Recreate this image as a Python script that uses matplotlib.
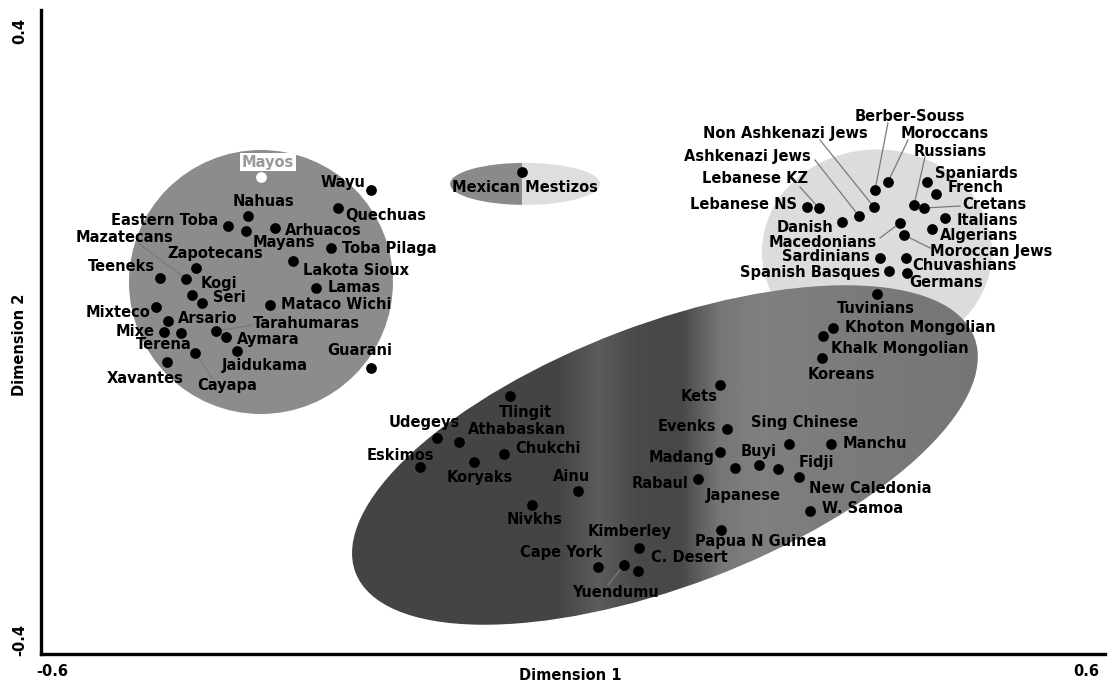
import numpy as np
import matplotlib
matplotlib.use("Agg")
import matplotlib.pyplot as plt
from matplotlib.patches import Ellipse, Rectangle
from matplotlib import transforms as mtransforms
from matplotlib.colors import LinearSegmentedColormap

# --- Amerindian group (left circle) ---
amer_names = ['Wayu', 'Quechuas', 'Nahuas', 'Eastern Toba', 'Mayans', 'Arhuacos',
              'Lakota Sioux', 'Toba Pilaga', 'Lamas', 'Mataco Wichi', 'Zapotecans',
              'Mazatecans', 'Teeneks', 'Kogi', 'Seri', 'Mixteco', 'Arsario', 'Mixe',
              'Terena', 'Cayapa', 'Tarahumaras', 'Aymara', 'Jaidukama', 'Guarani',
              'Xavantes']
amer_x = [-0.228, -0.265, -0.367, -0.389, -0.369, -0.336, -0.316, -0.273, -0.290,
          -0.342, -0.425, -0.436, -0.466, -0.430, -0.418, -0.470, -0.457, -0.461,
          -0.442, -0.426, -0.403, -0.391, -0.379, -0.228, -0.458]
amer_y = [0.176, 0.154, 0.144, 0.132, 0.125, 0.129, 0.088, 0.104, 0.055, 0.034,
          0.080, 0.066, 0.067, 0.046, 0.036, 0.031, 0.014, 0.000, -0.001, -0.026,
          0.001, -0.006, -0.024, -0.045, -0.037]
amer_lx = [-0.2346, -0.257, -0.349, -0.4004, -0.326, -0.3248, -0.3045, -0.2605,
           -0.277, -0.329, -0.404, -0.506, -0.509, -0.4196, -0.406, -0.477,
           -0.4455, -0.4714, -0.461, -0.390, -0.361, -0.379, -0.396, -0.241, -0.483]
amer_ly = [0.186, 0.145, 0.1615, 0.139, 0.1106, 0.1267, 0.077, 0.104, 0.055, 0.034,
           0.097, 0.118, 0.081, 0.060, 0.0425, 0.024, 0.017, 0.0, -0.015, -0.066,
           0.011, -0.009, -0.042, -0.0236, -0.058]
amer_ha = ['right', 'left', 'center', 'right', 'center', 'left', 'left', 'left',
           'left', 'left', 'center', 'center', 'center', 'left', 'left', 'right',
           'left', 'right', 'center', 'center', 'left', 'left', 'left', 'center',
           'center']

mayos_x, mayos_y = -0.352, 0.193
mestizo_x, mestizo_y = -0.0575, 0.1988

# --- European / Mediterranean group ---
eur_names = ['Berber-Souss', 'Moroccans', 'Non Ashkenazi Jews', 'Ashkenazi Jews',
             'Lebanese KZ', 'Lebanese NS', 'Danish', 'Macedonians', 'Sardinians',
             'Spanish Basques', 'Russians', 'Spaniards', 'French', 'Cretans',
             'Italians', 'Algerians', 'Moroccan Jews', 'Chuvashians', 'Germans']
eur_x = [0.3406, 0.3552, 0.3394, 0.3225, 0.2774, 0.2639, 0.3034, 0.3688, 0.3462,
         0.3564, 0.3846, 0.3992, 0.4094, 0.3958, 0.4195, 0.4049, 0.3733, 0.3755,
         0.3767]
eur_y = [0.1764, 0.1863, 0.1553, 0.1441, 0.154, 0.1553, 0.1367, 0.1354, 0.092,
         0.0758, 0.1578, 0.1863, 0.1714, 0.154, 0.1416, 0.128, 0.1205, 0.092, 0.0733]
eur_lx = [0.380, 0.4195, 0.239, 0.1962, 0.2053, 0.2526, 0.2932, 0.282, 0.335,
          0.3462, 0.4252, 0.4083, 0.4229, 0.4387, 0.4331, 0.4139, 0.4026, 0.3823,
          0.3789]
eur_ly = [0.2683, 0.2472, 0.2472, 0.2186, 0.1913, 0.159, 0.1304, 0.1106, 0.0932,
          0.0745, 0.2248, 0.1975, 0.1789, 0.159, 0.1391, 0.1193, 0.0994, 0.0832,
          0.0609]
eur_ha = ['center', 'center', 'center', 'center', 'center', 'right', 'right',
          'center', 'right', 'right', 'center', 'left', 'left', 'left', 'left',
          'left', 'left', 'left', 'left']

# --- Asian / Oceanian group (large ellipse) ---
asia_names = ['Tuvinians', 'Khoton Mongolian', 'Khalk Mongolian', 'Koreans', 'Kets',
              'Evenks', 'Sing Chinese', 'Manchu', 'Madang', 'Buyi', 'Fidji',
              'Japanese', 'New Caledonia', 'Rabaul', 'W. Samoa', 'Papua N Guinea',
              'Tlingit', 'Udegeys', 'Athabaskan', 'Eskimos', 'Koryaks', 'Chukchi',
              'Ainu', 'Nivkhs', 'Kimberley', 'Cape York', 'Yuendumu', 'C. Desert']
asia_x = [0.3428, 0.2932, 0.282, 0.2808, 0.1658, 0.1737, 0.2436, 0.291, 0.1658,
          0.2098, 0.2312, 0.1827, 0.2549, 0.141, 0.2673, 0.1669, -0.0711, -0.1534,
          -0.1286, -0.1726, -0.1117, -0.0778, 0.0056, -0.0462, 0.0744, 0.0282,
          0.0575, 0.0733]
asia_y = [0.0472, 0.005, -0.005, -0.0323, -0.0658, -0.1205, -0.1391, -0.1391,
          -0.149, -0.1652, -0.1702, -0.1689, -0.1801, -0.1826, -0.2223, -0.2459,
          -0.0795, -0.1317, -0.1366, -0.1677, -0.1615, -0.1515, -0.1975, -0.2149,
          -0.2683, -0.2919, -0.2894, -0.2969]
asia_lx = [0.3417, 0.3068, 0.291, 0.3022, 0.1421, 0.1613, 0.2616, 0.3045, 0.1601,
           0.2098, 0.2549, 0.1917, 0.2661, 0.1298, 0.2808, 0.2120, -0.0541, -0.168,
           -0.0632, -0.1951, -0.1049, -0.0654, -0.0011, -0.0429, 0.0643, -0.0135,
           0.0485, 0.088]
asia_ly = [0.0298, 0.005, -0.0199, -0.0522, -0.0807, -0.118, -0.113, -0.1379,
           -0.1565, -0.149, -0.1615, -0.2025, -0.1938, -0.1888, -0.2198, -0.2605,
           -0.0994, -0.113, -0.1205, -0.1528, -0.1813, -0.1453, -0.1801, -0.2335,
           -0.2484, -0.2745, -0.3242, -0.2805]
asia_ha = ['center', 'left', 'left', 'center', 'center', 'right', 'center', 'left',
           'right', 'center', 'left', 'center', 'left', 'right', 'left', 'center',
           'center', 'center', 'center', 'center', 'center', 'left', 'center',
           'center', 'center', 'center', 'center', 'left']

# leader lines: (population, start x, start y)
leaders = [('Mazatecans', -0.4906, 0.1106), ('Tarahumaras', -0.3609, 0.0087),
           ('Cayapa', -0.4071, -0.0571), ('Berber-Souss', 0.3552, 0.2596),
           ('Moroccans', 0.3778, 0.2385), ('Non Ashkenazi Jews', 0.2786, 0.2385),
           ('Ashkenazi Jews', 0.2729, 0.2137), ('Lebanese KZ', 0.256, 0.1801),
           ('Russians', 0.397, 0.2174), ('Cretans', 0.4365, 0.1565),
           ('Macedonians', 0.3462, 0.1168), ('Moroccan Jews', 0.4026, 0.1044),
           ('Sing Chinese', 0.2436, -0.1217), ('Fidji', 0.2538, -0.1615),
           ('Japanese', 0.1838, -0.1776), ('Yuendumu', 0.0395, -0.3143)]

fig = plt.figure(figsize=(11.14, 6.84), dpi=100)
ax = fig.add_axes([41 / 1114, 30 / 684, 1064 / 1114, 644 / 684])
ax.set_xlim(-0.6, 0.6)
ax.set_ylim(-0.4, 0.4)


def pix_ellipse(cx, cy, w, h, angle=0, **kw):
    # ellipse sized in screen pixels, centred on a data point
    tr = fig.dpi_scale_trans + mtransforms.ScaledTranslation(cx, cy, ax.transData)
    e = Ellipse((0, 0), w / 100, h / 100, angle=angle, transform=tr, **kw)
    ax.add_patch(e)
    return e


# region shapes
pix_ellipse(0.3428, 0.0994, 230, 205, fc='#dcdcdc', ec='none', zorder=1)
big = pix_ellipse(0.1037, -0.1528, 662, 262, angle=20.8, fc='none', ec='none', zorder=2)
stops = [(0.0, 0.27), (0.34, 0.27), (0.40, 0.36), (0.46, 0.29), (0.53, 0.28),
         (0.59, 0.46), (0.65, 0.50), (1.0, 0.46)]
cmap = LinearSegmentedColormap.from_list(
    'g', [(p, (v, v, v)) for p, v in stops])
grad = np.linspace(0, 1, 400)[None, :]
im = ax.imshow(grad, extent=[-0.26, 0.46, -0.4, 0.1], cmap=cmap, aspect='auto',
               zorder=2, interpolation='bilinear')
im.set_clip_path(big)

pix_ellipse(-0.3519, 0.0621, 264, 264, fc='#8c8c8c', ec='none', zorder=2)

mest = pix_ellipse(-0.054, 0.184, 150, 42, fc='#dedede', ec='none', zorder=2)
r = Rectangle((-0.2, 0.1), mestizo_x + 0.2, 0.15, fc='#8a8a8a', ec='none', zorder=2)
ax.add_patch(r)
r.set_clip_path(mest)

ax.set_xlim(-0.6, 0.6)
ax.set_ylim(-0.4, 0.4)

# leader lines
pos = {}
for names, xs, ys in [(amer_names, amer_x, amer_y), (eur_names, eur_x, eur_y),
                      (asia_names, asia_x, asia_y)]:
    for n, x, y in zip(names, xs, ys):
        pos[n] = (x, y)
for n, sx, sy in leaders:
    ax.plot([sx, pos[n][0]], [sy, pos[n][1]], color='#7a7a7a', lw=0.9, zorder=3)

fs = 10.5
for names, xs, ys, lxs, lys, has in [
        (amer_names, amer_x, amer_y, amer_lx, amer_ly, amer_ha),
        (eur_names, eur_x, eur_y, eur_lx, eur_ly, eur_ha),
        (asia_names, asia_x, asia_y, asia_lx, asia_ly, asia_ha)]:
    ax.scatter(xs, ys, s=60, color='black', zorder=5, linewidths=0)
    for n, lx, ly, ha in zip(names, lxs, lys, has):
        ax.text(lx, ly, n, ha=ha, va='center', fontsize=fs, fontweight='bold',
                color='black', zorder=6)

ax.scatter([mayos_x], [mayos_y], s=60, color='white', zorder=5, linewidths=0)
ax.text(-0.344, 0.211, 'Mayos', ha='center', va='center', fontsize=fs,
        fontweight='bold', color='#9a9a9a', zorder=6,
        bbox=dict(fc='white', ec='none', pad=1.2))
ax.scatter([mestizo_x], [mestizo_y], s=60, color='black', zorder=5, linewidths=0)
ax.text(-0.054, 0.180, 'Mexican Mestizos', ha='center', va='center', fontsize=fs,
        fontweight='bold', color='black', zorder=6)

# axes styling
for s in ['top', 'right']:
    ax.spines[s].set_visible(False)
ax.spines['left'].set_linewidth(2.4)
ax.spines['bottom'].set_linewidth(2.4)
ax.set_xticks([])
ax.set_yticks([])
ax.patch.set_alpha(0)

tk = dict(fontsize=10.5, fontweight='bold', color='black')
fig.text(20 / 1114, 1 - 31 / 684, '0.4', rotation=90, ha='center', va='center', **tk)
fig.text(20 / 1114, 1 - 640 / 684, '-0.4', rotation=90, ha='center', va='center', **tk)
fig.text(20 / 1114, 1 - 345 / 684, 'Dimension 2', rotation=90, ha='center',
         va='center', **tk)
fig.text(52 / 1114, 1 - 672 / 684, '-0.6', ha='center', va='center', **tk)
fig.text(1086 / 1114, 1 - 672 / 684, '0.6', ha='center', va='center', **tk)
fig.text(570 / 1114, 1 - 676 / 684, 'Dimension 1', ha='center', va='center', **tk)

fig.savefig('out.png', dpi=100)
